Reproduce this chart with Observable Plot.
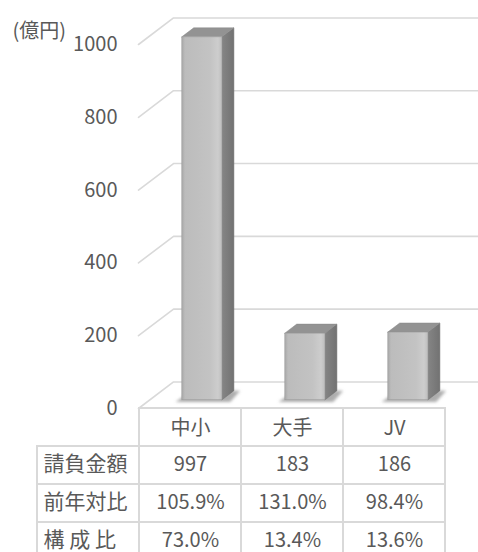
<!DOCTYPE html>
<html>
<head>
<meta charset="utf-8">
<script src="https://cdn.jsdelivr.net/npm/d3@7"></script>
<script src="https://cdn.jsdelivr.net/npm/@observablehq/plot@0.6"></script>
<style>
  html, body { margin: 0; padding: 0; background: white; }
  #chart svg { display: block; }
</style>
</head>
<body>
<div id="chart"></div>
<script>
// ---- data ----
const categories = ["中小", "大手", "JV"];
const amounts = [997, 183, 186];
const yoy = ["105.9%", "131.0%", "98.4%"];
const shares = ["73.0%", "13.4%", "13.6%"];
const rowLabels = ["請負金額", "前年対比", "構 成 比"];
const yTicks = [0, 200, 400, 600, 800, 1000];
const unitLabel = "(億円)";

// ---- 3D projection settings (in scale units) ----
const DX = 0.34;   // depth shift along x (column units)
const DY = 73;     // depth shift along y (value units)
const F0 = 0.31, F1 = 0.65;   // bar front/back depth fractions
const BL = 0.32, BR = 0.71;   // bar left/right within column

const FONT = "'Noto Sans CJK JP', 'Noto Sans', sans-serif";
const TXT = "#595959";

const bars = categories.map((c, i) => ({c, v: amounts[i], i: i + 1}));

const gridPts = yTicks.flatMap(t => [
  {t, x: 1, y: t},
  {t, x: 1 + DX, y: t + DY},
  {t, x: 4.31, y: t + DY}
]);

const sidePts = bars.flatMap(d => [
  {c: d.c, x: d.i + BR + F0 * DX, y1: F0 * DY, y2: d.v + F0 * DY},
  {c: d.c, x: d.i + BR + F1 * DX, y1: F1 * DY, y2: d.v + F1 * DY}
]);

const topPts = bars.flatMap(d => [
  {c: d.c, y: d.v + F0 * DY, x1: d.i + BL + F0 * DX, x2: d.i + BR + F0 * DX},
  {c: d.c, y: d.v + F1 * DY, x1: d.i + BL + F1 * DX, x2: d.i + BR + F1 * DX}
]);

const shadowPts = bars.flatMap(d => [
  {c: d.c, y: F0 * DY - 6, x1: d.i + BL + F0 * DX - 0.06, x2: d.i + BR + F0 * DX + 0.08},
  {c: d.c, y: F1 * DY, x1: d.i + BL + F1 * DX - 0.02, x2: d.i + BR + F1 * DX + 0.06}
]);

const defs = () => {
  const g = d3.create("svg:defs");
  const lf = g.append("linearGradient").attr("id", "barFront").attr("x1", 0).attr("x2", 1).attr("y1", 0).attr("y2", 0);
  lf.append("stop").attr("offset", "0%").attr("stop-color", "#a8a8a8");
  lf.append("stop").attr("offset", "8%").attr("stop-color", "#bcbcbc");
  lf.append("stop").attr("offset", "70%").attr("stop-color", "#c3c3c3");
  lf.append("stop").attr("offset", "90%").attr("stop-color", "#cdcdcd");
  lf.append("stop").attr("offset", "100%").attr("stop-color", "#bdbdbd");
  const ls = g.append("linearGradient").attr("id", "barSide").attr("x1", 0).attr("x2", 1).attr("y1", 0).attr("y2", 0);
  ls.append("stop").attr("offset", "0%").attr("stop-color", "#858585");
  ls.append("stop").attr("offset", "100%").attr("stop-color", "#727272");
  const blur = g.append("filter").attr("id", "soft").attr("x", "-20%").attr("y", "-50%").attr("width", "140%").attr("height", "200%");
  blur.append("feGaussianBlur").attr("stdDeviation", 1.5);
  return g.node();
};

const softShadow = (i, s, v, d, c, next) => {
  const g = next(i, s, v, d, c);
  g.setAttribute("filter", "url(#soft)");
  return g;
};

const chart = Plot.plot({
  width: 478,
  height: 410,
  marginTop: 44,
  marginBottom: 2,
  marginLeft: 35,
  marginRight: 31,
  x: {domain: [0, 4], axis: null},
  y: {domain: [0, 1000], axis: null},
  style: {fontFamily: FONT, overflow: "visible", background: "transparent"},
  marks: [
    defs,
    Plot.line(gridPts, {x: "x", y: "y", z: "t", stroke: "#d9d9d9", strokeWidth: 1.6}),
    Plot.areaX(shadowPts, {y: "y", x1: "x1", x2: "x2", z: "c", fill: "#8a8a8a", fillOpacity: 0.7, render: softShadow}),
    Plot.areaY(sidePts, {x: "x", y1: "y1", y2: "y2", z: "c", fill: "url(#barSide)", stroke: "#6e6e6e", strokeWidth: 0.5}),
    Plot.areaX(topPts, {y: "y", x1: "x1", x2: "x2", z: "c", fill: "#939393", stroke: "#888888", strokeWidth: 0.5}),
    Plot.rect(bars, {
      x1: d => d.i + BL + F0 * DX,
      x2: d => d.i + BR + F0 * DX,
      y1: () => F0 * DY,
      y2: d => d.v + F0 * DY,
      fill: "url(#barFront)", stroke: "#9a9a9a", strokeWidth: 0.6
    }),
    Plot.text(yTicks, {x: () => 1, y: d => d, text: d => String(d), textAnchor: "end", dx: -21, fontSize: 20, fill: TXT}),
    Plot.text([unitLabel], {frameAnchor: "top-left", text: d => d, textAnchor: "start", lineAnchor: "middle", dx: -23, dy: -13, fontSize: 20, fill: TXT})
  ]
});

// ---- table ----
const rowH = 38;
const cells = [];
categories.forEach(c => cells.push({col: c, row: "head", text: c}));
rowLabels.forEach((r, ri) => {
  cells.push({col: "label", row: r, text: r});
  const vals = [amounts.map(String), yoy, shares][ri];
  categories.forEach((c, ci) => cells.push({col: c, row: r, text: vals[ci]}));
});

const table = Plot.plot({
  width: 478,
  height: 165,
  marginTop: 1,
  marginBottom: 165 - 1 - 4 * rowH,
  marginLeft: 35,
  marginRight: 32,
  x: {type: "band", domain: ["label", ...categories], padding: 0, axis: null},
  y: {type: "band", domain: ["head", ...rowLabels], padding: 0, axis: null},
  style: {fontFamily: FONT, overflow: "visible", background: "transparent"},
  marks: [
    Plot.cell(cells, {x: "col", y: "row", fill: "white", stroke: "#d9d9d9", strokeWidth: 2, inset: 0}),
    Plot.text(cells.filter(d => d.row === "head"), {x: "col", y: "row", text: "text", dy: 1, fontSize: 20, fill: TXT}),
    Plot.text(cells.filter(d => d.row !== "head" && d.col !== "label"), {x: "col", y: "row", text: "text", dy: -1, fontSize: 20, fill: TXT}),
    Plot.text(cells.filter(d => d.col === "label"), {x: "col", y: "row", text: "text", textAnchor: "start", dx: -45, dy: -1, fontSize: 21, fill: TXT})
  ]
});
table.style.marginTop = "-3px";

const el = document.getElementById("chart");
el.append(chart, table);
</script>
</body>
</html>
